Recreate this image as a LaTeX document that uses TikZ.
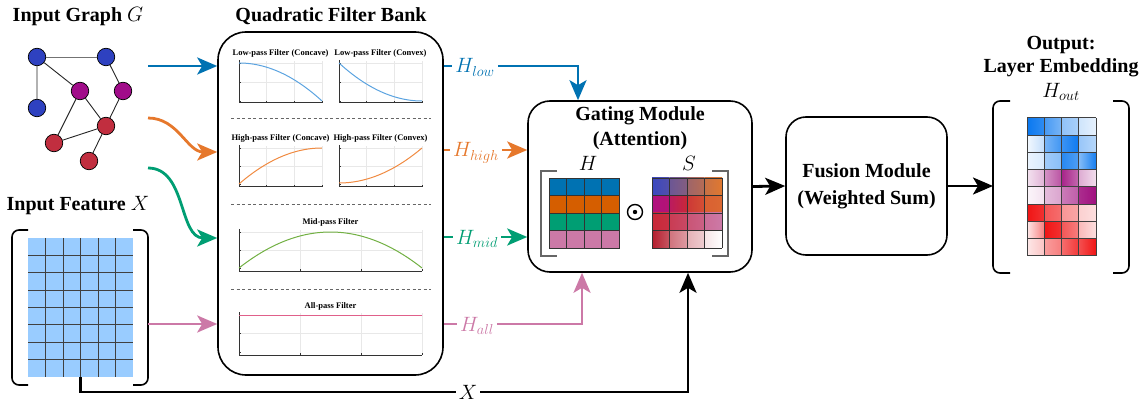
\documentclass[tikz,border=0pt]{standalone}
\usepackage{fontspec}
\setmainfont{Liberation Serif}
\usetikzlibrary{arrows.meta}

% flow colours
\definecolor{lowc}{HTML}{0072B2}
\definecolor{highc}{HTML}{E6782C}
\definecolor{midc}{HTML}{009E73}
\definecolor{allc}{HTML}{CC79A7}
% response rows of H
\definecolor{hblue}{HTML}{0072B2}
\definecolor{horange}{HTML}{D55E00}
\definecolor{hgreen}{HTML}{009E73}
\definecolor{hpink}{HTML}{CC79A7}
% graph vertices
\definecolor{vblue}{HTML}{2E41C0}
\definecolor{vpurple}{HTML}{A10C8A}
\definecolor{vred}{HTML}{C12E3F}
% feature matrix
\definecolor{featc}{HTML}{99CCFF}
% output embedding
\definecolor{outB}{HTML}{0A78F0}
\definecolor{outP}{HTML}{A0107F}
\definecolor{outR}{HTML}{F01515}
% attention scores
\definecolor{sb}{HTML}{3A48C0}
\definecolor{so}{HTML}{E07830}
\definecolor{sm}{HTML}{B0107F}
\definecolor{sr}{HTML}{C82838}
\definecolor{sp}{HTML}{CC79A7}
\definecolor{sd}{HTML}{B41E2E}
% filter response curves
\definecolor{curveB}{HTML}{5BA3E0}
\definecolor{curveO}{HTML}{F08A40}
\definecolor{curveG}{HTML}{72B043}
\definecolor{curveP}{HTML}{E0608A}
\definecolor{gridc}{HTML}{E8E8E8}
\definecolor{axisc}{HTML}{333333}

\tikzset{
  bigtitle/.style={font=\fontsize{20}{24}\selectfont\bfseries, align=center, inner sep=0pt},
  plottitle/.style={font=\fontsize{8.5}{9}\selectfont\bfseries, inner sep=0pt},
  mathlbl/.style={font=\fontsize{20}{22}\selectfont, inner sep=0pt},
  tag/.style={mathlbl, fill=white, inner xsep=3pt, inner ysep=1pt},
  vert/.style={circle, draw=black, line width=0.7pt, minimum size=17.5pt, inner sep=0pt},
  gedge/.style={line width=0.9pt, draw=black!85},
  module/.style={draw=black, line width=1.6pt, inner sep=0pt},
  flow/.style={line width=2.8pt, -{Stealth[length=20pt,width=17pt,inset=5pt]}},
  bracket/.style={line width=1.6pt, rounded corners=7pt},
  gbracket/.style={line width=1.3pt, draw=black!60},
  sepline/.style={draw=black!60, line width=0.7pt, dash pattern=on 3pt off 2.5pt},
  cell/.style={draw=black!80, line width=0.9pt},
  curve/.style={line width=1pt, domain=0:1, samples=50, smooth},
}

% frame of one response plot: x0, x1, top tick y, bottom tick y, axis y
\newcommand{\fbframe}[5]{%
  \pgfmathsetmacro{\fbw}{(#2-#1)/3}%
  \pgfmathsetmacro{\fbm}{(#3+#4)/2}%
  \draw[gridc, line width=0.5pt]
    ({#1+\fbw},#3-2) -- ({#1+\fbw},#5)
    ({#1+2*\fbw},#3-2) -- ({#1+2*\fbw},#5)
    ({#1+3*\fbw},#3-2) -- ({#1+3*\fbw},#5)
    (#1,\fbm) -- (#2,\fbm) (#1,#3) -- (#2,#3);
  \foreach \k in {1,2,3} \draw[axisc, line width=0.6pt] ({#1+\k*\fbw},#5) -- ++(0,-2);
  \foreach \yy in {#3,\fbm,#4} \draw[axisc, line width=0.6pt] (#1,\yy) -- ++(2,0);
  \draw[axisc, line width=1pt] (#1,#3-3) -- (#1,#5) -- (#2,#5);
}

\begin{document}
\begin{tikzpicture}[x=1pt, y=-1pt]
\useasboundingbox (0,0) rectangle (1145,403);

% ---------------- input graph ----------------
\node[bigtitle] (gtitle) at (78,17) {Input Graph $G$};
\node[vert, fill=vblue]   (v1) at (37,57)  {};
\node[vert, fill=vblue]   (v2) at (106,57) {};
\node[vert, fill=vpurple] (v3) at (80,91)  {};
\node[vert, fill=vpurple] (v4) at (123,91) {};
\node[vert, fill=vblue]   (v5) at (37,108) {};
\node[vert, fill=vred]    (v6) at (106,126) {};
\node[vert, fill=vred]    (v7) at (54,143) {};
\node[vert, fill=vred]    (v8) at (89,161) {};
\draw[gedge, draw=black!55] (v1) -- (v2);
\draw[gedge] (v1) -- (v3) (v1) -- (v5) (v2) -- (v4) (v3) -- (v6)
  (v3) -- (v7) (v4) -- (v6) (v6) -- (v7) (v6) -- (v8);

% ---------------- input feature ----------------
\node[bigtitle] (ftitle) at (78,206) {Input Feature $X$};
\node[fill=featc, minimum width=105pt, minimum height=139pt, inner sep=0pt] (feat) at (80.5,307.5) {};
\foreach \k in {1,...,5} \draw[black!75, line width=1pt] (28+17.5*\k,238) -- (28+17.5*\k,377);
\foreach \k in {1,...,7} \draw[black!75, line width=1pt] (28,238+17.375*\k) -- (133,238+17.375*\k);
\draw[bracket] (28,230) -- (12,230) -- (12,385) -- (28,385);
\draw[bracket] (133,230) -- (148,230) -- (148,385) -- (133,385);

% ---------------- filter bank ----------------
\node[bigtitle] (btitle) at (331,16) {Quadratic Filter Bank};
\node[module, rounded corners=28pt, minimum width=225pt, minimum height=343pt] (bank) at (330.5,203.5) {};

\node[plottitle] (t1) at (280.5,53) {Low-pass Filter (Concave)};
\node[plottitle] (t2) at (380.5,53) {Low-pass Filter (Convex)};
\fbframe{239}{322}{63}{101}{103}
\fbframe{339}{422}{63}{101}{103}
\draw[curve, curveB] plot ({239+83*\x},{101-38*(1-\x*\x)});
\draw[curve, curveB] plot ({339+83*\x},{101-38*(1-\x)*(1-\x)});
\draw[sepline] (231,118) -- (431,118);

\node[plottitle] (t3) at (280.5,138) {High-pass Filter (Concave)};
\node[plottitle] (t4) at (380.5,138) {High-pass Filter (Convex)};
\fbframe{239}{322}{148}{184}{187}
\fbframe{339}{422}{148}{184}{187}
\draw[curve, curveO] plot ({239+83*\x},{184-36*(1-(1-\x)*(1-\x))});
\draw[curve, curveO] plot ({339+83*\x},{183-35*\x*\x});
\draw[sepline] (231,204) -- (431,204);

\node[plottitle] (t5) at (330.5,222) {Mid-pass Filter};
\fbframe{239}{422}{232}{268}{271}
\draw[curve, curveG] plot ({239+183*\x},{268-36*4*\x*(1-\x)});
\draw[sepline] (231,289) -- (431,289);

\node[plottitle] (t6) at (330.5,306) {All-pass Filter};
\fbframe{239}{422}{315}{352}{355}
\draw[line width=1pt, curveP] (239,315) -- (422,315);

% ---------------- gating module ----------------
\node[module, rounded corners=22pt, minimum width=224pt, minimum height=171pt] (gate) at (640,186.5) {};
\node[bigtitle, font=\fontsize{20}{25}\selectfont\bfseries] (gtl) at (640,128.5) {Gating Module\\(Attention)};
\node[mathlbl] (hlab) at (588,163) {$H$};
\node[mathlbl] (slab) at (689,163) {$S$};
\foreach \r/\c in {0/hblue,1/horange,2/hgreen,3/hpink}
  \foreach \k in {0,...,3}
    \draw[cell, fill=\c] (549+17.5*\k,178+17.5*\r) rectangle ++(17.5,17.5);
\foreach \lc/\rc [count=\i from 0] in {
  sb/sb!85!so, sb!70!so/sb!55!so, sb!40!so/sb!25!so, sb!15!so/so,
  sm/sm!85!sr, sm!55!sr/sr, sr!80!so/sr!50!so, sr!30!so/sr!20!so,
  sr/sr!90!sp, sr!75!sp/sr!60!sp, sr!45!sp/sr!30!sp, sr!15!sp/sp,
  sd/sd!75, sd!62/sd!45, sd!35/sd!22, sd!12/white}
{
  \pgfmathtruncatemacro{\row}{\i/4}
  \pgfmathtruncatemacro{\col}{mod(\i,4)}
  \path[left color=\lc, right color=\rc] (652+17.5*\col,178+17.5*\row) rectangle ++(17.5,17.5);
}
\foreach \k in {0,...,4} \draw[black!80, line width=0.9pt] (652+17.5*\k,178) -- (652+17.5*\k,248);
\foreach \k in {0,...,4} \draw[black!80, line width=0.9pt] (652,178+17.5*\k) -- (722,178+17.5*\k);
% element-wise product sign
\node[circle, draw=black, line width=1.4pt, minimum size=15pt, inner sep=0pt] (odot) at (635,212) {};
\fill (odot.center) circle (2.2);
\draw[gbracket] (557,171) -- (541,171) -- (541,256) -- (557,256);
\draw[gbracket] (712,171) -- (728,171) -- (728,256) -- (712,256);

% ---------------- fusion module ----------------
\node[module, rounded corners=20pt, minimum width=161pt, minimum height=138pt,
  align=center, font=\fontsize{20}{27}\selectfont\bfseries] (fusion) at (866.5,186) {Fusion Module\\(Weighted Sum)};

% ---------------- output ----------------
\node[bigtitle, font=\fontsize{20}{23}\selectfont\bfseries] (otitle) at (1061,57) {Output:\\Layer Embedding};
\node[mathlbl] (hout) at (1061,92) {$H_{out}$};
\foreach \lc/\rc [count=\i from 0] in {
  outB/outB!85, outB!75/outB!55, outB!45/outB!35, outB!20/outB!10,
  outB!5/outB!25, outB!55/outB!78, outB!80/outB!98, outB!42/outB!30,
  outB!8/outB!16, outB!38/outB!48, outB!88/outB!72, outB!50/outB!95,
  outP!12/outP!32, outP!45/outP!72, outP!92/outP!62, outP!35/outP!14,
  outP!4/outP!12, outP!28/outP!38, outP!55/outP!68, outP!88/outP,
  outR/outR!88, outR!72/outR!62, outR!45/outR!38, outR!20/outR!14,
  outR!10/outR!55, outR/outR!88, outR!72/outR!55, outR!30/outR!14,
  outR!10/outR!25, outR!42/outR!55, outR!62/outR!85, outR!75/outR}
{
  \pgfmathtruncatemacro{\row}{\i/4}
  \pgfmathtruncatemacro{\col}{mod(\i,4)}
  \path[left color=\lc, right color=\rc] (1027+17.25*\col,118+17.25*\row) rectangle ++(17.25,17.25);
}
\foreach \k in {0,...,4} \draw[black!75, line width=1pt] (1027+17.25*\k,118) -- (1027+17.25*\k,256);
\foreach \k in {0,...,8} \draw[black!75, line width=1pt] (1027,118+17.25*\k) -- (1096,118+17.25*\k);
\draw[bracket] (1010,101) -- (993,101) -- (993,273) -- (1010,273);
\draw[bracket] (1113,101) -- (1129,101) -- (1129,273) -- (1113,273);
\coordinate (outin) at (993,186);

% ---------------- connectors ----------------
\coordinate (g1) at (148,66);
\coordinate (g2) at (148,118);
\coordinate (g3) at (148,168);
\coordinate (x1) at (148,324);
\coordinate (yhin) at (0,152);
\coordinate (ymin) at (0,238);
\coordinate (ylow) at (0,66);
\coordinate (yhigh) at (0,150);
\coordinate (ymid) at (0,237);
\coordinate (yall) at (0,324);
\coordinate (ybot) at (0,392);
\coordinate (xlow) at (578,0);
\coordinate (xall) at (582,0);
\coordinate (xskip) at (688,0);

\draw[flow, lowc] (g1) -- (bank.west |- g1);
\draw[flow, highc] (g2) to[out=0, in=180] (bank.west |- yhin);
\draw[flow, midc] (g3) to[out=0, in=180] (bank.west |- ymin);
\draw[flow, allc] (x1) -- (bank.west |- x1);

\draw[flow, lowc] (bank.east |- ylow) -| (gate.north -| xlow);
\draw[flow, highc] (bank.east |- yhigh) -- (gate.west |- yhigh);
\draw[flow, midc] (bank.east |- ymid) -- (gate.west |- ymid);
\draw[flow, allc] (bank.east |- yall) -| (gate.south -| xall);
\node[tag, text=lowc, anchor=base] (llow) at (475,73) {$H_{low}$};
\node[tag, text=highc, anchor=base] (lhigh) at (476,157) {$H_{high}$};
\node[tag, text=midc, anchor=base] (lmid) at (477,244) {$H_{mid}$};
\node[tag, text=allc, anchor=base] (lall) at (477,331) {$H_{all}$};

\draw[flow] (feat.south) |- (xskip |- ybot) -- (gate.south -| xskip);
\node[tag, anchor=base] (lx) at (468,399) {$X$};

\draw[flow] (gate.east) -- (fusion.west);
\draw[flow] (fusion.east) -- (outin);
\end{tikzpicture}
\end{document}
